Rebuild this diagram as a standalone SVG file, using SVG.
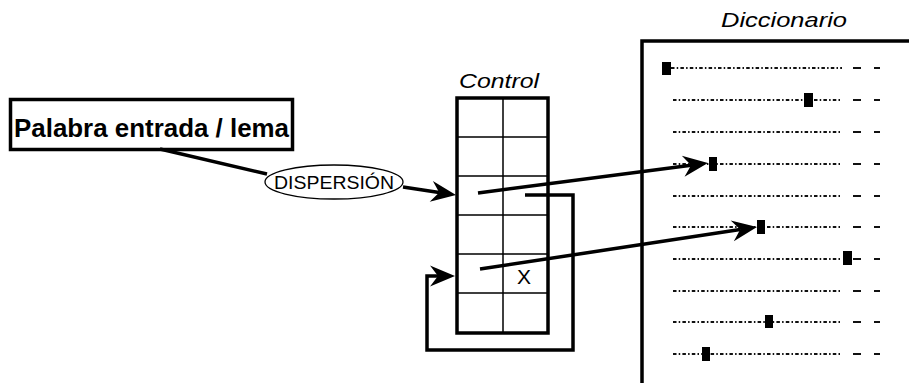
<svg xmlns="http://www.w3.org/2000/svg" width="909" height="383" viewBox="0 0 909 383">
<style>
.txt{font-family:"Liberation Sans",Arial,sans-serif;fill:#000}
.it{font-style:italic}
.conn{fill:none;stroke:#000;stroke-width:3.5;stroke-linejoin:miter}
.grid{fill:none;stroke:#000;stroke-width:1.5}
.dots{stroke:#111;stroke-width:2;stroke-dasharray:3.5 2.2 1.5 2.2}
.tail{stroke:#111;stroke-width:2}
.sq{fill:#000}
</style>
<defs>
<marker id="ah" markerUnits="userSpaceOnUse" viewBox="-26 -12 27 24" markerWidth="27" markerHeight="24" refX="-17" refY="0" orient="auto">
<path d="M0,0 L-25,-10.5 L-17,0 L-25,10.5 Z" fill="#000"/>
</marker>
</defs>
<rect width="909" height="383" fill="#fff"/>

<g id="palabra">
<rect x="10.5" y="99.5" width="282" height="50" fill="#fff" stroke="#000" stroke-width="3.5"/>
<text class="txt" x="14" y="137" font-size="25" font-weight="bold" textLength="275" lengthAdjust="spacingAndGlyphs">Palabra entrada / lema</text>
</g>

<g id="dispersion">
<ellipse cx="334" cy="182" rx="69" ry="17" fill="#fff" stroke="#000" stroke-width="1.3"/>
<text class="txt" x="334" y="189" font-size="18" text-anchor="middle" textLength="120" lengthAdjust="spacingAndGlyphs">DISPERSIÓN</text>
</g>

<g id="control">
<text class="txt it" x="499" y="88" font-size="21" text-anchor="middle" textLength="80" lengthAdjust="spacingAndGlyphs">Control</text>
<path class="grid" d="M503,98 V333 M457,137 H548 M457,176 H548 M457,215 H548 M457,254 H548 M457,293 H548"/>
<rect x="457" y="98" width="91" height="235" fill="none" stroke="#000" stroke-width="3.5"/>
<text class="txt" x="524" y="284" font-size="21" text-anchor="middle">X</text>
</g>

<g id="diccionario">
<text class="txt it" x="784" y="27" font-size="21" text-anchor="middle" textLength="126" lengthAdjust="spacingAndGlyphs">Diccionario</text>
<path d="M642,383 V41 H909" fill="none" stroke="#000" stroke-width="3.5"/>
<g>
<line class="dots" x1="671" y1="68" x2="842" y2="68"/>
<line class="dots" x1="673" y1="100" x2="842" y2="100"/>
<line class="dots" x1="673" y1="132" x2="842" y2="132"/>
<line class="dots" x1="673" y1="164" x2="842" y2="164"/>
<line class="dots" x1="673" y1="196" x2="842" y2="196"/>
<line class="dots" x1="673" y1="227" x2="842" y2="227"/>
<line class="dots" x1="673" y1="259" x2="842" y2="259"/>
<line class="dots" x1="673" y1="291" x2="842" y2="291"/>
<line class="dots" x1="673" y1="322" x2="842" y2="322"/>
<line class="dots" x1="673" y1="354" x2="842" y2="354"/>
<path class="tail" d="M853,68 h8 M874,68 h6 M853,100 h8 M874,100 h6 M853,132 h8 M874,132 h6 M853,164 h8 M874,164 h6 M853,196 h8 M874,196 h6 M853,227 h8 M874,227 h6 M853,259 h8 M874,259 h6 M853,291 h8 M874,291 h6 M853,322 h8 M874,322 h6 M853,354 h8 M874,354 h6"/>
</g>
<rect class="sq" x="662" y="62" width="9" height="13"/>
<rect class="sq" x="804" y="93" width="9" height="14"/>
<rect class="sq" x="709" y="157" width="8" height="14"/>
<rect class="sq" x="757" y="220" width="8" height="14"/>
<rect class="sq" x="843" y="251" width="9" height="14"/>
<rect class="sq" x="765" y="315" width="8" height="13"/>
<rect class="sq" x="702" y="347" width="8" height="14"/>
</g>

<g id="connectors">
<line class="conn" x1="160" y1="149" x2="267" y2="174" stroke-width="3"/>
<line class="conn" x1="403" y1="187" x2="439.2" y2="192.5" marker-end="url(#ah)"/>
<line class="conn" x1="478" y1="193" x2="691.1" y2="165.2" marker-end="url(#ah)"/>
<line class="conn" x1="480" y1="269" x2="740.2" y2="229.6" marker-end="url(#ah)"/>
<path class="conn" d="M525,195 H573 V350 H427 V276 H438" marker-end="url(#ah)"/>
</g>
</svg>
